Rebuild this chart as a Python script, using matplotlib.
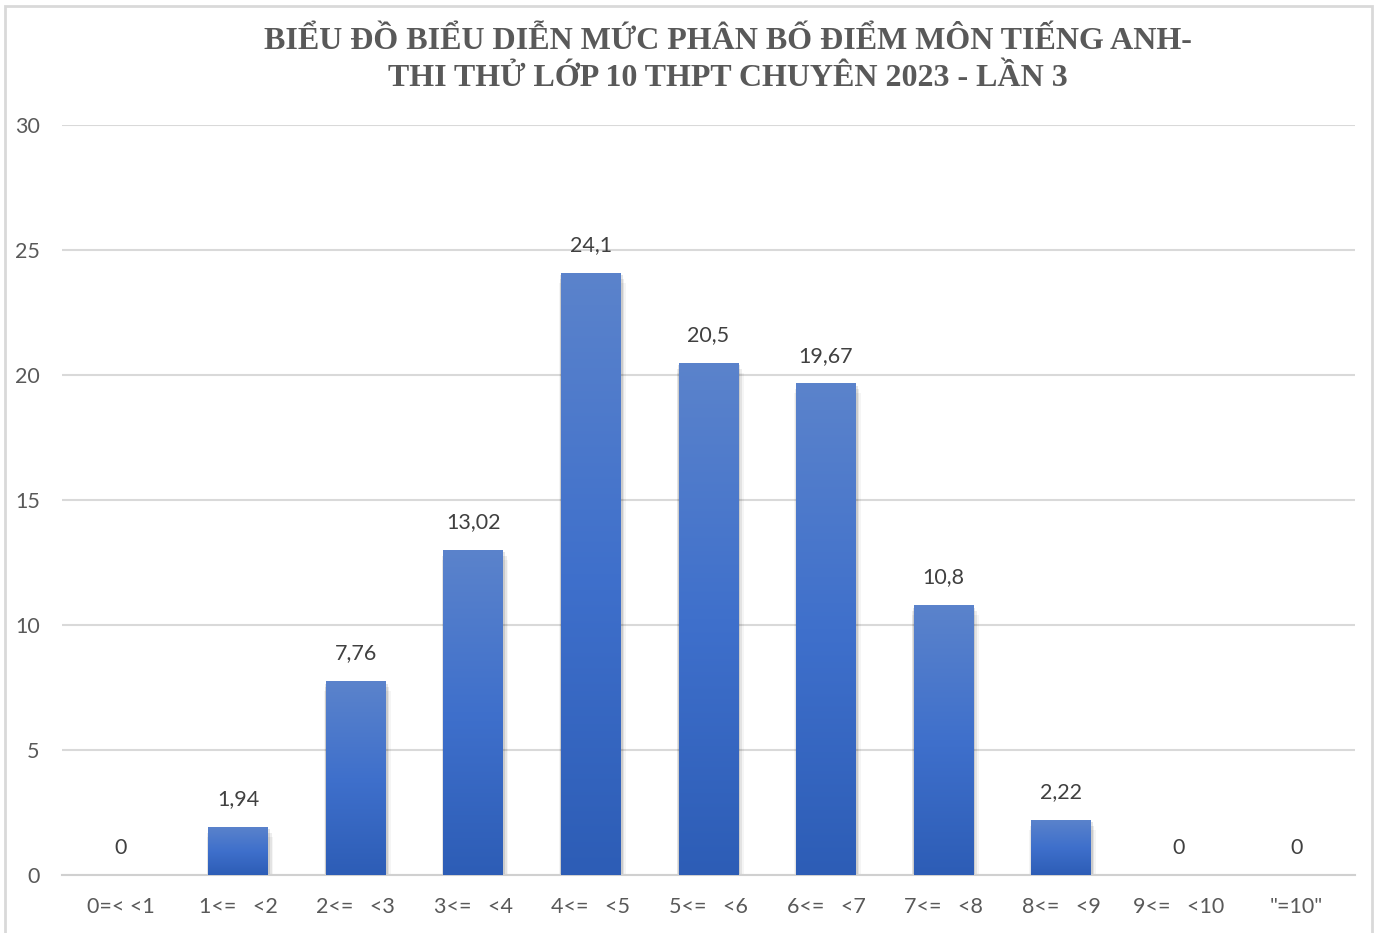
import numpy as np
import matplotlib.pyplot as plt
from matplotlib.patches import Rectangle
from matplotlib.colors import LinearSegmentedColormap

categories = ['0=< <1', '1<=   <2', '2<=   <3', '3<=   <4', '4<=   <5', '5<=   <6',
              '6<=   <7', '7<=   <8', '8<=   <9', '9<=   <10', '"=10"']
values = [0, 1.94, 7.76, 13.02, 24.1, 20.5, 19.67, 10.8, 2.22, 0, 0]
labels = ['0', '1,94', '7,76', '13,02', '24,1', '20,5', '19,67', '10,8', '2,22', '0', '0']
yticks = [0, 5, 10, 15, 20, 25, 30]
title = 'BIỂU ĐỒ BIỂU DIỄN MỨC PHÂN BỐ ĐIỂM MÔN TIẾNG ANH-\nTHI THỬ LỚP 10 THPT CHUYÊN 2023 - LẦN 3'

W, H = 1377, 933
fig = plt.figure(figsize=(W / 100, H / 100), dpi=100)
ax = fig.add_axes([62 / W, 1 - 875 / H, (1355 - 62) / W, (875 - 125) / H])

# chart frame
fig.patches.append(Rectangle((5 / W, -0.01), 1367 / W, 1 - 6 / H + 0.01, transform=fig.transFigure,
                             fill=False, edgecolor='#d9d9d9', linewidth=2))

x = np.arange(len(categories))
width = 0.51
grad = LinearSegmentedColormap.from_list('g', ['#2d5db6', '#3f70cc', '#5b83cb'])

# shadows
for xi, v in zip(x, values):
    if v > 0:
        for k, a in enumerate([0.10, 0.07, 0.04]):
            d = 0.012 * (k + 1)
            ax.add_patch(Rectangle((xi - width / 2 - d * 0.4, -0.15 * (k + 1)), width + d * 1.6, v + 0.05,
                                   facecolor='black', alpha=a, edgecolor='none', zorder=2))

bars = ax.bar(x, values, width=width, color='#3f6fc6', zorder=3)
ramp = np.linspace(0, 1, 256).reshape(-1, 1)
for b, v in zip(bars, values):
    if v > 0:
        x0 = b.get_x()
        im = ax.imshow(ramp, cmap=grad, origin='lower', aspect='auto',
                       extent=[x0, x0 + b.get_width(), 0, v], zorder=4)
        im.set_clip_path(b)

for xi, v, lab in zip(x, values, labels):
    ax.text(xi, v + 0.7, lab, ha='center', va='bottom', fontsize=15.5, color='#404040',
            family='Lato', zorder=5)

ax.set_xlim(-0.5, len(categories) - 0.5)
ax.set_ylim(0, 30)
ax.set_yticks(yticks)
ax.set_xticks(x)
ax.set_xticklabels(categories)
ax.grid(axis='y', color='#d9d9d9', linewidth=1.5, zorder=0)
ax.set_axisbelow(True)
for s in ['top', 'right', 'left']:
    ax.spines[s].set_visible(False)
ax.spines['bottom'].set_color('#d0d0d0')
ax.spines['bottom'].set_linewidth(1.5)
ax.tick_params(length=0, labelsize=15.5, labelcolor='#595959')
ax.tick_params(axis='y', pad=16)
ax.tick_params(axis='x', pad=16)
for t in ax.get_xticklabels() + ax.get_yticklabels():
    t.set_family('Lato')

fig.text(0.5 * (265 + 1190) / W, 1 - 60 / H, title, ha='center', va='center', fontsize=23,
         fontweight='bold', color='#595959', family='Liberation Serif', linespacing=1.38)

fig.savefig('out.png', dpi=100, facecolor='white')
